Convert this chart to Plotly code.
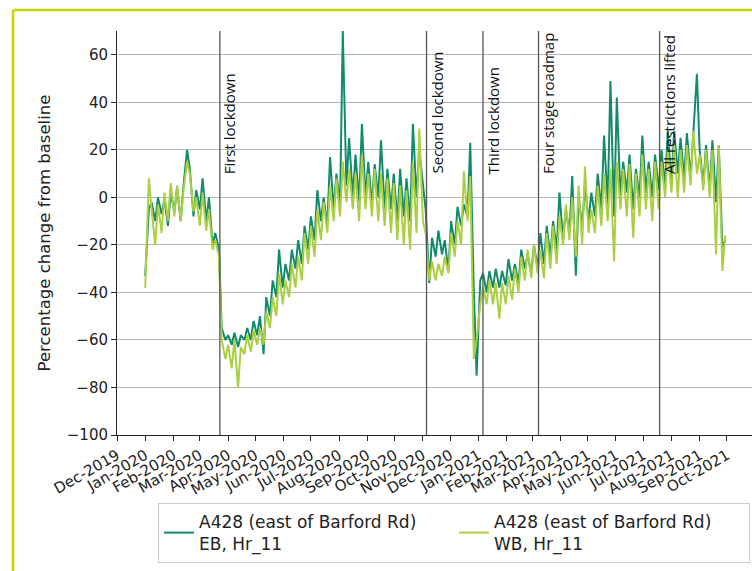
import pandas as pd
import plotly.graph_objects as go

# ---- data (two samples per week: Wed, Sun) ----
wednesdays = pd.date_range("2020-01-01", "2021-09-29", freq="7D")
sundays = wednesdays[:-1] + pd.Timedelta(days=4)
dates = sorted(list(wednesdays) + list(sundays))

eb_label = "A428 (east of Barford Rd)<br>EB, Hr_11"
wb_label = "A428 (east of Barford Rd)<br>WB, Hr_11"

eb_values = [
    -33, -5, -2, -10, 0, -7, -1, -12, 2, -6, 4, -10, 5, 20, 12, -8, 3, -5, 8, -10,
    0, -20, -15, -22, -55, -60, -58, -62, -57, -63, -58, -60, -55, -60, -52, -58,
    -50, -66, -42, -50, -35, -42, -22, -38, -28, -35, -22, -30, -18, -28, -12, -22,
    -8, -18, 3, -10, 0, -12, 17, -5, 10, -3, 70, 5, 25, 0, 18, -2, 31, 0,
    15, -3, 14, 0, 24, -5, 12, -5, 10, -10, 12, -8, 8, -10, 31, 0, 20, 5,
    -5, -36, -17, -25, -14, -24, -18, -31, -10, -20, -4, -12, -3, -8, 23, -40,
    -75, -35, -32, -40, -31, -38, -30, -38, -31, -37, -26, -35, -28, -36, -22, -30,
    -24, -32, -20, -30, -15, -28, -12, -25, -10, -22, 2, -18, -5, -15, 9, -33,
    0, -12, 5, -10, 2, -8, 10, -5, 26, -3, 49, -8, 42, 0, 15, 2, 18, -5, 12, 0,
    26, 2, 15, 0, 18, 3, 20, 5, 28, 5, 28, 10, 25, 8, 27, 8, 25, 52, 20, 5,
    22, 3, 24, -2, 22, -21, -18,
]

wb_values = [
    -38, 8, -5, -20, -3, -15, 2, -10, 6, -8, 5, -10, 3, 15, 10, -6, 0, -12, 2, -14,
    -5, -22, -18, -25, -60, -68, -62, -72, -60, -80, -63, -66, -58, -65, -56, -62,
    -55, -62, -48, -55, -42, -50, -32, -45, -35, -42, -28, -38, -25, -35, -15, -28,
    -12, -25, -5, -18, -2, -15, 5, -10, 8, -8, 15, -2, 12, -5, 10, -10, 18, -5,
    10, -8, 12, -10, 10, -12, 8, -15, 6, -18, 5, -20, 3, -22, 15, -15, 29, -10,
    -15, -35, -27, -35, -28, -33, -25, -32, -15, -25, -10, -20, 11, -10, 9, -68,
    -60, -45, -38, -45, -35, -45, -36, -51, -36, -45, -33, -43, -30, -40, -25, -35,
    -22, -34, -20, -32, -22, -34, -15, -30, -12, -28, -8, -20, -3, -18, 0, -25,
    5, -20, 13, -15, -5, -15, 5, -12, 10, -10, 12, -27, 15, -5, 12, -8, 14, -17,
    10, -8, 18, -5, 12, -10, 15, -5, 15, 0, 20, 2, 22, 0, 20, 2, 22, 5, 28, 10,
    18, 3, 20, 0, 20, -24, 22, -31, -16,
]

event_dates = ["2020-03-23", "2020-11-05", "2021-01-06", "2021-03-08", "2021-07-19"]
event_labels = ["First lockdown", "Second lockdown", "Third lockdown",
                "Four stage roadmap", "All restrictions lifted"]

y_ticks = [-100, -80, -60, -40, -20, 0, 20, 40, 60]

# ---- figure ----
EB_COLOR = "#138a6c"
WB_COLOR = "#abcf42"
FONT = "DejaVu Sans"

fig = go.Figure()
fig.add_trace(go.Scatter(x=dates, y=eb_values, mode="lines", name=eb_label,
                         line=dict(color=EB_COLOR, width=2)))
fig.add_trace(go.Scatter(x=dates, y=wb_values, mode="lines", name=wb_label,
                         line=dict(color=WB_COLOR, width=2)))

for d, lab in zip(event_dates, event_labels):
    fig.add_shape(type="line", xref="x", yref="paper", x0=d, x1=d, y0=0, y1=1,
                  line=dict(color="#555555", width=1.3))
    fig.add_annotation(x=d, y=9, xref="x", yref="y", text=lab, textangle=-90,
                       showarrow=False, xanchor="left", yanchor="bottom",
                       xshift=-2, font=dict(family="Open Sans", size=15, color="#111111"))

# outer lime frame (left and top edges)
L, R, T, B = 117, 752, 31, 435
def px(xp):
    return (xp - L) / (R - L)
def py(yp):
    return (B - yp) / (B - T)
fig.add_shape(type="line", xref="paper", yref="paper", x0=px(13), x1=px(13),
              y0=py(10), y1=py(571), line=dict(color="#c5d600", width=2.5))
fig.add_shape(type="line", xref="paper", yref="paper", x0=px(13), x1=px(752),
              y0=py(10), y1=py(10), line=dict(color="#c5d600", width=2.5))

fig.update_layout(
    width=752, height=571,
    margin=dict(l=L, r=752 - R, t=T, b=571 - B),
    paper_bgcolor="white", plot_bgcolor="white",
    font=dict(family=FONT, size=15, color="#222222"),
    showlegend=True,
    legend=dict(orientation="h", x=px(158), y=py(503), xanchor="left", yanchor="top",
                bordercolor="#cccccc", borderwidth=1, font=dict(family=FONT, size=17),
                entrywidth=250, bgcolor="white", tracegroupgap=0),
)
fig.update_xaxes(
    range=["2019-12-01", "2021-10-28 12:00"], tickformat="%b-%Y", dtick="M1",
    tick0="2019-12-01", tickangle=-30, ticks="outside", ticklen=5, tickcolor="#222",
    showline=True, linecolor="#222", linewidth=1, showgrid=False, zeroline=False,
    tickfont=dict(family=FONT, size=15),
)
fig.update_yaxes(
    range=[-100, 70], tickvals=y_ticks, ticks="outside", ticklen=5, tickcolor="#222",
    showline=True, linecolor="#222", linewidth=1, showgrid=True, gridcolor="#b5b5b5",
    gridwidth=1, zeroline=False, tickfont=dict(family=FONT, size=15),
    title=dict(text="Percentage change from baseline", font=dict(family=FONT, size=16.5),
               standoff=12),
)

fig.write_html("out.html")
